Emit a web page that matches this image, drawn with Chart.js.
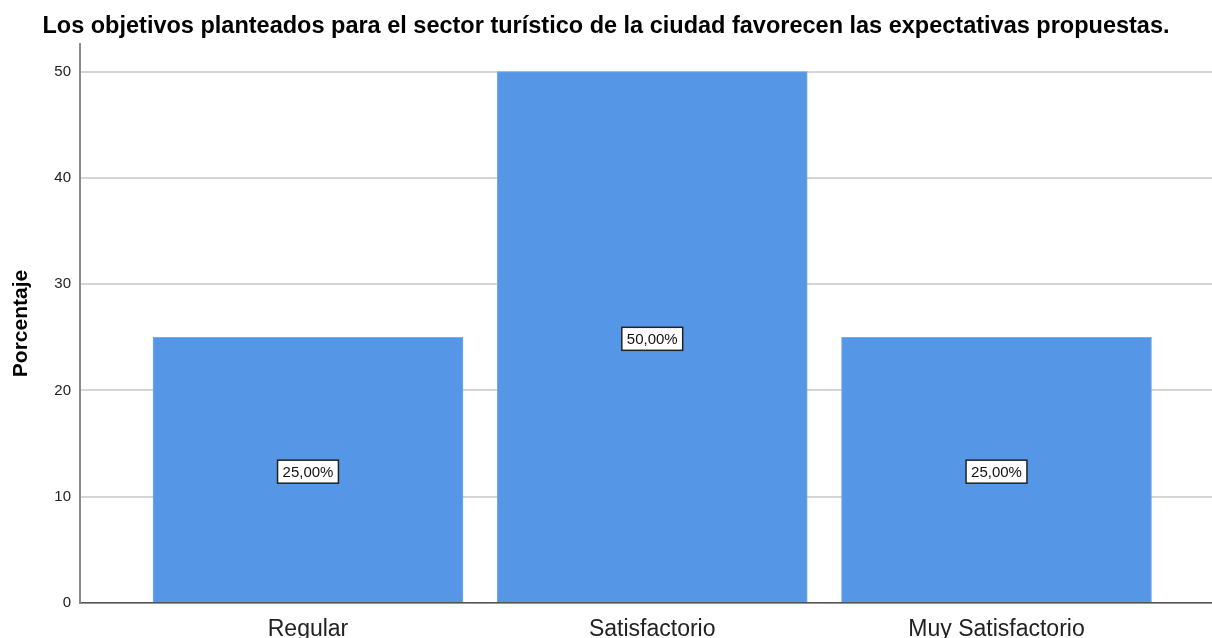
<!DOCTYPE html>
<html>
<head>
<meta charset="utf-8">
<script src="https://cdn.jsdelivr.net/npm/chart.js@4/dist/chart.umd.min.js"></script>
<style>
  body { margin: 0; background: #fff; }
  canvas { display: block; }
</style>
</head>
<body>
<canvas id="chart" width="1212" height="638"></canvas>
<script>
const titleText = 'Los objetivos planteados para el sector turístico de la ciudad favorecen las expectativas propuestas.';
const categories = ['Regular', 'Satisfactorio', 'Muy Satisfactorio'];
const percentages = [25, 50, 25];
const valueLabels = ['25,00%', '50,00%', '25,00%'];
const yTicks = [0, 10, 20, 30, 40, 50];

const font = '"Liberation Sans", Arial, sans-serif';

// boxed percentage labels in the middle of each bar
const boxLabels = {
  id: 'boxLabels',
  afterDatasetsDraw(chart) {
    const ctx = chart.ctx;
    const meta = chart.getDatasetMeta(0);
    ctx.save();
    ctx.font = '15px ' + font;
    ctx.textAlign = 'center';
    ctx.textBaseline = 'middle';
    meta.data.forEach((bar, i) => {
      const txt = valueLabels[i];
      const cx = bar.x;
      const cy = (bar.y + bar.base) / 2 + 2;
      const w = ctx.measureText(txt).width + 10;
      const h = 23;
      ctx.fillStyle = '#fff';
      ctx.fillRect(cx - w / 2, cy - h / 2, w, h);
      ctx.lineWidth = 1.5;
      ctx.strokeStyle = '#222';
      ctx.strokeRect(cx - w / 2, cy - h / 2, w, h);
      ctx.fillStyle = '#111';
      ctx.fillText(txt, cx, cy + 1);
    });
    ctx.restore();
  }
};

new Chart(document.getElementById('chart'), {
  type: 'bar',
  data: {
    datasets: [{
      data: percentages.map((v, i) => ({ x: i + 1, y: v })),
      backgroundColor: '#5596e6',
      borderColor: '#74aaee',
      borderWidth: 1,
      barThickness: 310
    }]
  },
  options: {
    responsive: false,
    animation: false,
    layout: { padding: { left: 0, right: 0, top: 0, bottom: 0 } },
    plugins: {
      legend: { display: false },
      tooltip: { enabled: false },
      title: {
        display: true,
        text: titleText,
        color: '#000',
        font: { family: font, size: 23.5, weight: 'bold', lineHeight: 1.2 },
        padding: { top: 12, bottom: 3.8 }
      }
    },
    scales: {
      x: {
        type: 'linear',
        offset: false,
        min: 0.3377,
        max: 3.626,
        afterBuildTicks: s => { s.ticks = categories.map((c, i) => ({ value: i + 1 })); },
        afterFit: s => { s.height = 35; },
        ticks: {
          callback: v => categories[v - 1],
          color: '#222',
          font: { family: font, size: 23 },
          padding: 13,
          maxRotation: 0,
          autoSkip: false
        },
        grid: { display: false, drawTicks: false, offset: false },
        border: { display: true, color: '#555', width: 1.5 }
      },
      y: {
        min: 0,
        max: 52.6,
        afterBuildTicks: s => { s.ticks = yTicks.map(v => ({ value: v })); },
        afterFit: s => { s.width = 80; },
        ticks: {
          color: '#222',
          font: { family: font, size: 15 },
          padding: 9
        },
        grid: { color: '#d4d4d4', lineWidth: 2, drawTicks: false },
        border: { display: true, color: '#8a8a8a', width: 2 },
        title: {
          display: true,
          text: 'Porcentaje',
          color: '#000',
          font: { family: font, size: 21, weight: 'bold' },
          padding: { top: 9, bottom: 0 }
        }
      }
    }
  },
  plugins: [boxLabels]
});
</script>
</body>
</html>
